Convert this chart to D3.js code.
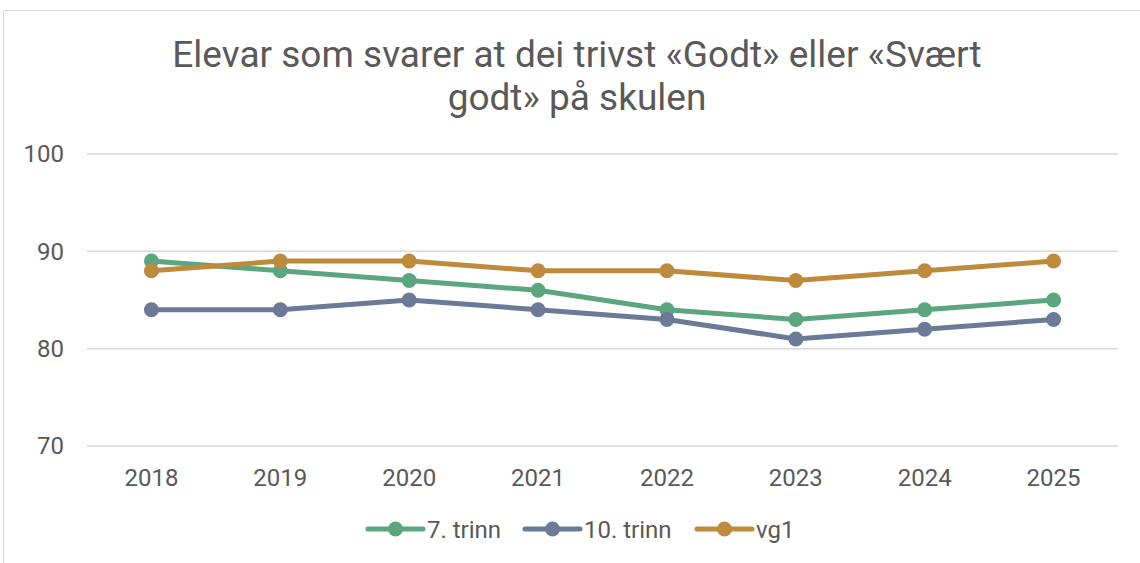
<!DOCTYPE html>
<html><head><meta charset="utf-8">
<script src="https://cdn.jsdelivr.net/npm/d3@7"></script>
<style>body{margin:0;background:#fff;}svg{display:block;font-family:Roboto,"Open Sans",sans-serif;}</style>
</head><body>
<svg id="c" width="1140" height="563"></svg>
<script>
const years = ["2018","2019","2020","2021","2022","2023","2024","2025"];
const trinn7 = [89, 88, 87, 86, 84, 83, 84, 85];
const trinn10 = [84, 84, 85, 84, 83, 81, 82, 83];
const vg1 = [88, 89, 89, 88, 88, 87, 88, 89];
const seriesNames = ["7. trinn", "10. trinn", "vg1"];
const yTicks = [70, 80, 90, 100];
const titleLines = ["Elevar som svarer at dei trivst «Godt» eller «Svært", "godt» på skulen"];

const colors = ["#5BA57F", "#6B7A96", "#BE8A3C"];
const series = [trinn7, trinn10, vg1];

const svg = d3.select("#c");
svg.append("rect").attr("x",3.5).attr("y",10.5).attr("width",1150).attr("height",570)
  .attr("fill","#fff").attr("stroke","#d9d9d9").attr("stroke-width",1);

const x = d3.scaleBand().domain(years).range([87,1118]);
const y = d3.scaleLinear().domain([70,100]).range([446,154]);

// gridlines
svg.append("g").selectAll("line").data(yTicks).join("line")
  .attr("x1",87).attr("x2",1118).attr("y1",d=>y(d)).attr("y2",d=>y(d))
  .attr("stroke","#d9d9d9").attr("stroke-width",1.5);

// y axis labels
const yAxis = svg.append("g").attr("transform","translate(87,0)")
  .call(d3.axisLeft(y).tickValues(yTicks).tickSize(0).tickPadding(23));
yAxis.select(".domain").remove();
yAxis.selectAll("text").attr("fill","#595959").style("font-size","24px").style("font-family","Roboto");

// x axis labels
const xAxis = svg.append("g").attr("transform","translate(0,446)")
  .call(d3.axisBottom(x).tickSize(0).tickPadding(23));
xAxis.select(".domain").remove();
xAxis.selectAll("text").attr("fill","#595959").style("font-size","24px").style("font-family","Roboto");

// title
svg.append("g").selectAll("text").data(titleLines).join("text")
  .attr("x",577).attr("y",(d,i)=>67+i*43).attr("text-anchor","middle")
  .attr("fill","#595959").style("font-size","37px").text(d=>d);

const line = d3.line().x((d,i)=>x(years[i])+x.bandwidth()/2).y(d=>y(d));
series.forEach((s,k)=>{
  const g = svg.append("g");
  g.append("path").datum(s).attr("d",line).attr("fill","none")
    .attr("stroke",colors[k]).attr("stroke-width",5).attr("stroke-linejoin","round").attr("stroke-linecap","round");
  g.selectAll("circle").data(s).join("circle")
    .attr("cx",(d,i)=>x(years[i])+x.bandwidth()/2).attr("cy",d=>y(d)).attr("r",7.5).attr("fill",colors[k]);
});

// legend
const legX = [368, 525, 697];
const leg = svg.append("g");
seriesNames.forEach((n,k)=>{
  const g = leg.append("g").attr("transform",`translate(${legX[k]},529)`);
  g.append("line").attr("x1",0).attr("x2",55).attr("stroke",colors[k]).attr("stroke-width",5).attr("stroke-linecap","round");
  g.append("circle").attr("cx",27.5).attr("r",7.5).attr("fill",colors[k]);
  g.append("text").attr("x",59).attr("y",8.5).attr("fill","#595959").style("font-size","24px").text(n);
});
</script>
</body></html>
